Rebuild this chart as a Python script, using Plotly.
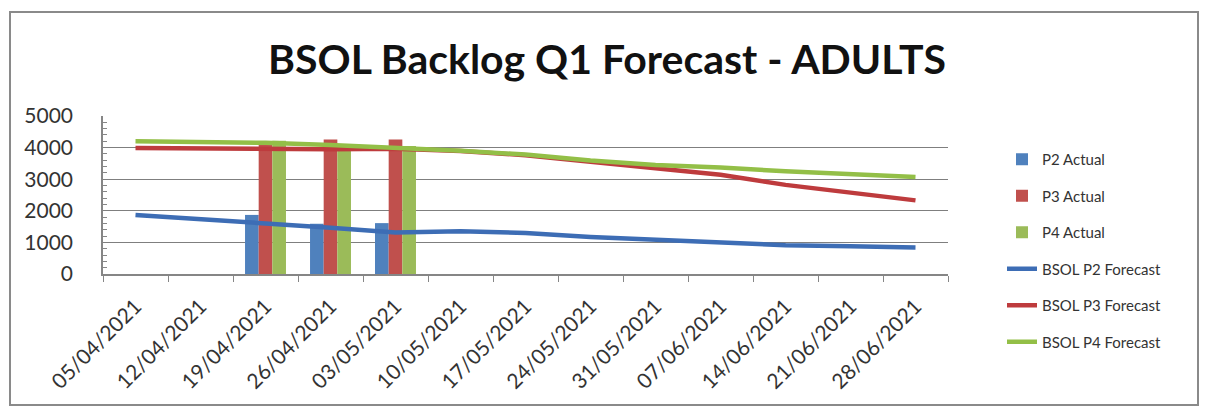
import plotly.graph_objects as go

categories = ["05/04/2021", "12/04/2021", "19/04/2021", "26/04/2021", "03/05/2021",
              "10/05/2021", "17/05/2021", "24/05/2021", "31/05/2021", "07/06/2021",
              "14/06/2021", "21/06/2021", "28/06/2021"]

p2_actual = [None, None, 1870, 1590, 1610, None, None, None, None, None, None, None, None]
p3_actual = [None, None, 4150, 4260, 4260, None, None, None, None, None, None, None, None]
p4_actual = [None, None, 4220, 4110, 4050, None, None, None, None, None, None, None, None]

p2_forecast = [1870, 1750, 1600, 1460, 1310, 1350, 1300, 1170, 1080, 1000, 910, 880, 840]
p3_forecast = [3990, 3970, 3960, 3950, 3960, 3890, 3760, 3560, 3350, 3140, 2820, 2560, 2330]
p4_forecast = [4200, 4180, 4150, 4080, 4000, 3900, 3780, 3590, 3450, 3370, 3250, 3150, 3070]

FONT = "Lato"
W, H = 1206, 407
L, R, T, B = 103, 258, 116, 133
pw, ph = W - L - R, H - T - B

fig = go.Figure()
bar_specs = [("P2 Actual", p2_actual, "#4F81BD"),
             ("P3 Actual", p3_actual, "#C0504D"),
             ("P4 Actual", p4_actual, "#9BBB59")]
for i, (name, vals, col) in enumerate(bar_specs):
    fig.add_trace(go.Bar(x=categories, y=vals, name=name, marker_color=col,
                         marker_line_width=0, legendgroup=f"g{i}"))
line_specs = [("BSOL P2 Forecast", p2_forecast, "#3D6DB5"),
              ("BSOL P3 Forecast", p3_forecast, "#BE3B3D"),
              ("BSOL P4 Forecast", p4_forecast, "#93BF47")]
for i, (name, vals, col) in enumerate(line_specs):
    fig.add_trace(go.Scatter(x=categories, y=vals, name=name, mode="lines",
                             line=dict(color=col, width=4.5), legendgroup=f"h{i}"))

def px_x(x):
    return (x - L) / pw

def px_y(y):
    return (H - B - y) / ph

fig.add_shape(type="rect", xref="paper", yref="paper",
              x0=px_x(10), x1=px_x(1198), y0=px_y(405), y1=px_y(12),
              line=dict(color="#8a8a8a", width=2), layer="below")

fig.update_layout(
    width=W, height=H,
    margin=dict(l=L, r=R, t=T, b=B, pad=0),
    paper_bgcolor="white", plot_bgcolor="white",
    font=dict(family=FONT, color="#333333"),
    title=dict(text="BSOL Backlog Q1 Forecast - ADULTS", xref="container", yref="container",
               x=607 / W, xanchor="center", y=1 - 60 / H, yanchor="middle",
               font=dict(family=FONT, size=41, color="#111111", weight="bold")),
    barmode="group", bargap=0.37, bargroupgap=0,
    showlegend=True,
    legend=dict(x=px_x(1002), xanchor="left", y=px_y(143), yanchor="top",
                font=dict(family=FONT, size=15, color="#333333"),
                tracegroupgap=14, bgcolor="rgba(0,0,0,0)", maxheight=400),
    xaxis=dict(type="category", tickson="boundaries", ticks="outside", ticklen=6,
               tickcolor="#868686", showline=True, linecolor="#868686", linewidth=1.5,
               showgrid=False, tickangle=-45, tickfont=dict(family=FONT, size=21, color="#333333"),
               ticklabelstandoff=10),
    yaxis=dict(range=[0, 5000], dtick=1000, showgrid=True, gridcolor="#7f7f7f", gridwidth=1.2,
               showline=True, linecolor="#868686", linewidth=1.5, zeroline=False,
               ticks="", tickfont=dict(family=FONT, size=21, color="#333333"),
               ticklabelstandoff=24,
               minor=dict(ticks="inside", dtick=200, ticklen=4, tickcolor="#868686", showgrid=False)),
)

fig.write_html("out.html")
